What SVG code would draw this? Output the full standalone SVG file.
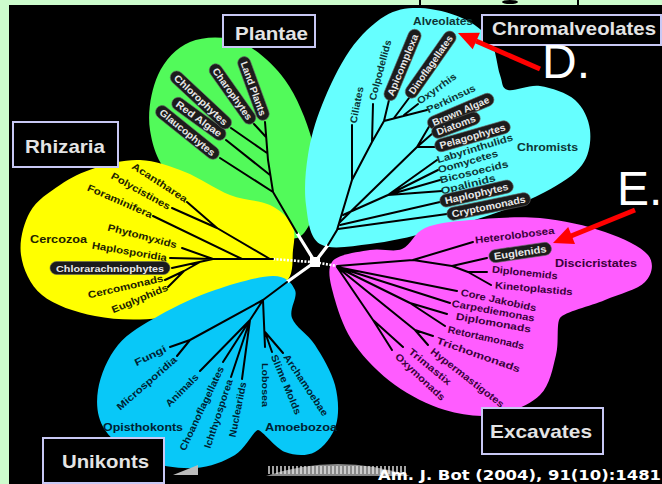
<svg xmlns="http://www.w3.org/2000/svg" width="662" height="484" viewBox="0 0 662 484">
<defs>
<style>
.ln{stroke:#000;stroke-width:2;fill:none;stroke-linecap:round}
.wl{stroke:#fff;stroke-width:3.2;fill:none}
.dl{stroke:#fff;stroke-width:2.6;fill:none;stroke-dasharray:2 1.5}
.t{font-family:"Liberation Sans",Arial,sans-serif;font-weight:bold;font-size:9.8px}
.h{font-family:"Liberation Sans",Arial,sans-serif;font-weight:bold;font-size:11px}
.cy{fill:#0d3535}.ye{fill:#222200}.bl{fill:#001f33}.mg{fill:#3a003a}
.pl rect{fill:#1c1c1c;stroke:#666;stroke-width:0.6}
.pl text{fill:#e8e8e8}
.box rect{fill:#000;stroke:#c8c8f4;stroke-width:2}
.box text{font-family:"Liberation Sans",Arial,sans-serif;font-weight:bold;font-size:19px;fill:#e4e4e4}
.big{font-family:"Liberation Sans",Arial,sans-serif;font-size:48px;fill:#fff}
.arr{stroke:#f00;stroke-width:5;fill:none}
</style>
</defs>
<rect width="662" height="484" fill="#cdfccd"/>
<rect x="9" y="5" width="653" height="479" fill="#000"/>
<g id="top-fragment">
<rect x="419" y="0" width="2" height="5" fill="#000"/>
<rect x="577" y="0" width="2" height="5" fill="#000"/>
<ellipse cx="510" cy="2" rx="8" ry="2" fill="#000"/>
</g>
<g id="lobes">
<path id="lobe-plantae" fill="#52fa5a" d="M297,238 C285.7,241.3 270.3,224.7 250,215 C229.7,205.3 191.7,194.2 175,180 C158.3,165.8 152.8,147.5 150,130 C147.2,112.5 151.3,89.7 158,75 C164.7,60.3 176.3,47.5 190,42 C203.7,36.5 224.2,35.7 240,42 C255.8,48.3 273,63.7 285,80 C297,96.3 306.5,120.8 312,140 C317.5,159.2 320.5,178.7 318,195 C315.5,211.3 308.3,234.7 297,238 Z"/>
<path id="lobe-chromalveolates" fill="#66ffff" d="M320,244 C309.3,237.5 308,219.8 306,205 C304,190.2 305.3,171.7 308,155 C310.7,138.3 315,122.5 322,105 C329,87.5 339.5,64.8 350,50 C360.5,35.2 373.3,23 385,16 C396.7,9 407.2,7.7 420,8 C432.8,8.3 450.3,12.7 462,18 C473.7,23.3 483.7,30.5 490,40 C496.3,49.5 497,66.7 500,75 C503,83.3 501.3,88.2 508,90 C514.7,91.8 528.8,84.3 540,86 C551.2,87.7 566.7,92.7 575,100 C583.3,107.3 588.8,119.2 590,130 C591.2,140.8 589.5,154.7 582,165 C574.5,175.3 560.3,183.7 545,192 C529.7,200.3 509.2,208.3 490,215 C470.8,221.7 450,227.2 430,232 C410,236.8 388.3,242 370,244 C351.7,246 330.7,250.5 320,244 Z"/>
<path id="lobe-rhizaria" fill="#ffff00" d="M293,250 C291.8,259.7 294.7,274.7 285,283 C275.3,291.3 255.8,294.2 235,300 C214.2,305.8 183.3,315.3 160,318 C136.7,320.7 114.7,319.8 95,316 C75.3,312.2 54.3,305.2 42,295 C29.7,284.8 23,268.8 21,255 C19,241.2 23.5,223.7 30,212 C36.5,200.3 49.2,192.3 60,185 C70.8,177.7 81.7,172.2 95,168 C108.3,163.8 125,159.3 140,160 C155,160.7 170,166.2 185,172 C199.2,177.5 215.8,189.5 230,195 C244.2,200.5 259.7,200 270,205 C280.3,210 288.2,217.5 292,225 C295.8,232.5 294.2,240.3 293,250 Z"/>
<path id="lobe-excavates" fill="#ff5cff" d="M332,262 C337.8,253.7 358.3,252.2 370,250 C381.7,247.8 392.8,252.7 402,249 C411.2,245.3 413.7,232.8 425,228 C436.3,223.2 450.8,221.7 470,220 C489.2,218.3 517.5,216 540,218 C562.5,220 587,225.8 605,232 C623,238.2 641.3,246.7 648,255 C654.7,263.3 652.2,274.5 645,282 C637.8,289.5 619.2,294 605,300 C590.8,306 564,312 560,318 C556,324 559.3,342.2 556,355 C552.7,367.8 550.2,385 540,395 C529.8,405 510.8,412.5 495,415 C479.2,417.5 461.7,415 445,410 C428.3,405 410,395.8 395,385 C380,374.2 365,359.2 355,345 C345,330.8 338.8,313.8 335,300 C331.2,286.2 326.2,270.3 332,262 Z"/>
<path id="lobe-unikonts" fill="#08c8f8" d="M273,276 C286.3,276 291.8,283 295,290 C298.2,297 288.7,308.8 292,318 C295.3,327.2 307.8,333.8 315,345 C322.2,356.2 331.5,371.7 335,385 C338.5,398.3 339.3,413.8 336,425 C332.7,436.2 323.5,447.5 315,452 C306.5,456.5 294.5,455.7 285,452 C275.5,448.3 262,430 258,430 C254,430 245.5,448.7 235,455 C224.5,461.3 210,467.2 195,468 C180,468.8 160,466.3 145,460 C130,453.7 112.8,441.7 105,430 C97.2,418.3 95.8,404.2 98,390 C100.2,375.8 107.7,357.5 118,345 C128.3,332.5 143.8,324.2 160,315 C176.2,305.8 196.2,296.5 215,290 C233.8,283.5 259.7,276 273,276 Z"/>
</g>
<g id="decorations">
<path d="M266,476 Q338,452 410,476 Z" fill="#8a8a8a"/>
<path d="M268,470 L408,470" stroke="#e8e8e8" stroke-width="8" stroke-dasharray="2 2" opacity="0.7"/>
<polygon points="173,475 198,465 198,475" fill="#bbbbbb"/>
</g>
<g id="connectors">
<rect x="310" y="257" width="10" height="10" fill="#fff"/>
<path class="wl" d="M315,262 L297,233 M315,262 L328,245 M315,262 L287,282"/>
<path class="dl" d="M273,259 L311,262 M319,263 L337,266"/>
<path class="ln" d="M297,233 L273,192 L268,160 L265,122 M273,192 L220,158 M270,175 L226,140 M267,153 L231,128 M266,137 L254,124"/>
<path class="ln" d="M328,245 L337,230 L352,180 L372,142 L384,121 M352,180 L352,125 M372,142 L373,104 M384,121 L389,100 M384,121 L427,110 M394,118 L409,98 M404,115 L418,104"/>
<path class="ln" d="M340,222 L417,147 M417,147 L430,125 M417,147 L433,133 M417,147 L435,147 M343,215 L388,195 M388,195 L437,160 M388,195 L438,170 M388,195 L440,180 M388,195 L442,191 M340,225 L440,202 M338,229 L447,214"/>
<path class="ln" d="M273,259 L213,259 M270,259 L217,228 M217,228 L187,202 M217,228 L172,208 M242,259 L153,216 M213,259 L182,248 M213,259 L170,258 M213,259 L172,268 M200,262 L184,271 M184,271 L165,280 M184,271 L168,287"/>
<path class="ln" d="M287,282 L263,300 M263,300 L190,340 M190,340 L170,347 M190,340 L177,356 M263,300 L250,320 M250,320 L200,371 M250,320 L223,362 M250,320 L231,377 M250,320 L242,379 M263,300 L265,347 M265,332 L272,352 M265,332 L283,353"/>
<path class="ln" d="M337,266 L413,260 M413,260 L473,242 M413,260 L452,266 M452,266 L487,258 M452,266 L468,272 M468,272 L487,272 M468,272 L491,285 M337,267 L457,291 M337,267 L450,303 M337,267 L410,303 M410,303 L447,314 M410,303 L445,326 M337,267 L415,330 M415,330 L433,336 M415,330 L428,345 M337,267 L373,320 M373,320 L403,347 M373,320 L392,350"/>
</g>
<g id="plantae-leaves">
<g id="glaucophytes" class="pl" transform="translate(157,108) rotate(38.8)"><rect x="0" y="-6.5" width="78" height="13" rx="6.5"/><text class="t" x="5" y="3.5" textLength="68" lengthAdjust="spacingAndGlyphs">Glaucophytes</text></g>
<g id="red-algae" class="pl" transform="translate(173,100) rotate(36)"><rect x="0" y="-6.5" width="64" height="13" rx="6.5"/><text class="t" x="5" y="3.5" textLength="54" lengthAdjust="spacingAndGlyphs">Red Algae</text></g>
<g id="chlorophytes" class="pl" transform="translate(172,73) rotate(43)"><rect x="0" y="-6.5" width="79" height="13" rx="6.5"/><text class="t" x="5" y="3.5" textLength="69" lengthAdjust="spacingAndGlyphs">Chlorophytes</text></g>
<g id="charophytes" class="pl" transform="translate(212,65) rotate(54.7)"><rect x="0" y="-6.5" width="71" height="13" rx="6.5"/><text class="t" x="5" y="3.5" textLength="61" lengthAdjust="spacingAndGlyphs">Charophytes</text></g>
<g id="land-plants" class="pl" transform="translate(242,57) rotate(70)"><rect x="0" y="-6.5" width="67" height="13" rx="6.5"/><text class="t" x="5" y="3.5" textLength="57" lengthAdjust="spacingAndGlyphs">Land Plants</text></g>
</g>
<g id="chromalveolate-leaves">
<g id="alveolates"><text class="h cy" x="413" y="25" textLength="60" lengthAdjust="spacingAndGlyphs" style="font-size:10px">Alveolates</text></g>
<g id="chromists"><text class="h cy" x="517" y="151" textLength="61" lengthAdjust="spacingAndGlyphs" style="font-size:10.5px">Chromists</text></g>
<g id="ciliates" transform="translate(353,123) rotate(-79)"><text class="t cy" x="0" y="3.5" textLength="37" lengthAdjust="spacingAndGlyphs">Ciliates</text></g>
<g id="colpodellids" transform="translate(372,100) rotate(-75)"><text class="t cy" x="0" y="3.5" textLength="62" lengthAdjust="spacingAndGlyphs">Colpodellids</text></g>
<g id="apicomplexa" class="pl" transform="translate(388,100) rotate(-67.5)"><rect x="0" y="-6.5" width="76" height="13" rx="6.5"/><text class="t" x="5" y="3.5" textLength="66" lengthAdjust="spacingAndGlyphs">Apicomplexa</text></g>
<g id="dinoflagellates" class="pl" transform="translate(408,97) rotate(-55)"><rect x="0" y="-6.5" width="79" height="13" rx="6.5"/><text class="t" x="5" y="3.5" textLength="69" lengthAdjust="spacingAndGlyphs">Dinoflagellates</text></g>
<g id="oxyrrhis" transform="translate(418,102) rotate(-36)"><text class="t cy" x="0" y="3.5" textLength="46" lengthAdjust="spacingAndGlyphs">Oxyrrhis</text></g>
<g id="perkinsus" transform="translate(427,110) rotate(-25.6)"><text class="t cy" x="0" y="3.5" textLength="53" lengthAdjust="spacingAndGlyphs">Perkinsus</text></g>
<g id="brown-algae" class="pl" transform="translate(428,125) rotate(-23)"><rect x="0" y="-6.5" width="71" height="13" rx="6.5"/><text class="t" x="5" y="3.5" textLength="61" lengthAdjust="spacingAndGlyphs">Brown Algae</text></g>
<g id="diatoms" class="pl" transform="translate(432,134) rotate(-20.5)"><rect x="0" y="-6.5" width="51" height="13" rx="6.5"/><text class="t" x="5" y="3.5" textLength="41" lengthAdjust="spacingAndGlyphs">Diatoms</text></g>
<g id="pelagophytes" class="pl" transform="translate(435,147) rotate(-16)"><rect x="0" y="-6.5" width="78" height="13" rx="6.5"/><text class="t" x="5" y="3.5" textLength="68" lengthAdjust="spacingAndGlyphs">Pelagophytes</text></g>
<g id="labyrinthulids" transform="translate(437,160) rotate(-17)"><text class="t cy" x="0" y="3.5" textLength="79" lengthAdjust="spacingAndGlyphs">Labyrinthulids</text></g>
<g id="oomycetes" transform="translate(438,170) rotate(-16)"><text class="t cy" x="0" y="3.5" textLength="62" lengthAdjust="spacingAndGlyphs">Oomycetes</text></g>
<g id="bicosoecids" transform="translate(440,180) rotate(-13.7)"><text class="t cy" x="0" y="3.5" textLength="70" lengthAdjust="spacingAndGlyphs">Bicosoecids</text></g>
<g id="opalinids" transform="translate(441,191) rotate(-14)"><text class="t cy" x="0" y="3.5" textLength="56" lengthAdjust="spacingAndGlyphs">Opalinids</text></g>
<g id="haplophytes" class="pl" transform="translate(440,202) rotate(-13)"><rect x="0" y="-6.5" width="75" height="13" rx="6.5"/><text class="t" x="5" y="3.5" textLength="65" lengthAdjust="spacingAndGlyphs">Haplophytes</text></g>
<g id="cryptomonads" class="pl" transform="translate(447,215) rotate(-11.6)"><rect x="0" y="-6.5" width="85" height="13" rx="6.5"/><text class="t" x="5" y="3.5" textLength="75" lengthAdjust="spacingAndGlyphs">Cryptomonads</text></g>
</g>
<g id="rhizaria-leaves">
<g id="cercozoa"><text class="h ye" x="30" y="243" textLength="57" lengthAdjust="spacingAndGlyphs">Cercozoa</text></g>
<g id="acantharea" transform="translate(133,165) rotate(33)"><text class="t ye" x="0" y="3.5" textLength="64" lengthAdjust="spacingAndGlyphs">Acantharea</text></g>
<g id="polycistines" transform="translate(112,175) rotate(29)"><text class="t ye" x="0" y="3.5" textLength="66" lengthAdjust="spacingAndGlyphs">Polycistines</text></g>
<g id="foraminifera" transform="translate(88,187) rotate(23.6)"><text class="t ye" x="0" y="3.5" textLength="70" lengthAdjust="spacingAndGlyphs">Foraminifera</text></g>
<g id="phytomyxids" transform="translate(108,227) rotate(14.6)"><text class="t ye" x="0" y="3.5" textLength="71" lengthAdjust="spacingAndGlyphs">Phytomyxids</text></g>
<g id="haplosporidia" transform="translate(92,245) rotate(9.8)"><text class="t ye" x="0" y="3.5" textLength="76" lengthAdjust="spacingAndGlyphs">Haplosporidia</text></g>
<g id="chlorarachniophytes" class="pl" transform="translate(50,268)"><rect x="0" y="-6.5" width="120" height="13" rx="6.5"/><text class="t" x="6" y="3.5" textLength="108" lengthAdjust="spacingAndGlyphs">Chlorarachniophytes</text></g>
<g id="cercomonads" transform="translate(88,295) rotate(-12.8)"><text class="t ye" x="0" y="3.5" textLength="77" lengthAdjust="spacingAndGlyphs">Cercomonads</text></g>
<g id="euglyphids" transform="translate(112,310) rotate(-22.7)"><text class="t ye" x="0" y="3.5" textLength="60" lengthAdjust="spacingAndGlyphs">Euglyphids</text></g>
</g>
<g id="unikont-leaves">
<g id="opisthokonts"><text class="h bl" x="103" y="431" textLength="80" lengthAdjust="spacingAndGlyphs">Opisthokonts</text></g>
<g id="amoebozoa"><text class="h bl" x="265" y="431" textLength="72" lengthAdjust="spacingAndGlyphs">Amoebozoa</text></g>
<g id="fungi" transform="translate(135,363) rotate(-26)"><text class="t bl" x="0" y="3.5" textLength="34" lengthAdjust="spacingAndGlyphs">Fungi</text></g>
<g id="microsporidia" transform="translate(118,408) rotate(-41)"><text class="t bl" x="0" y="3.5" textLength="76" lengthAdjust="spacingAndGlyphs">Microsporidia</text></g>
<g id="animals" transform="translate(167,405) rotate(-45)"><text class="t bl" x="0" y="3.5" textLength="42" lengthAdjust="spacingAndGlyphs">Animals</text></g>
<g id="choanoflagellates" transform="translate(182,450) rotate(-64.8)"><text class="t bl" x="0" y="3.5" textLength="92" lengthAdjust="spacingAndGlyphs">Choanoflagellates</text></g>
<g id="ichthyosporea" transform="translate(207,448) rotate(-71.8)"><text class="t bl" x="0" y="3.5" textLength="72" lengthAdjust="spacingAndGlyphs">Ichthyosporea</text></g>
<g id="nucleariids" transform="translate(232,437) rotate(-78.7)"><text class="t bl" x="0" y="3.5" textLength="56" lengthAdjust="spacingAndGlyphs">Nucleariids</text></g>
<g id="lobosea" transform="translate(265,363) rotate(90)"><text class="t bl" x="0" y="3.5" textLength="44" lengthAdjust="spacingAndGlyphs">Lobosea</text></g>
<g id="slime-molds" transform="translate(274,355) rotate(67.4)"><text class="t bl" x="0" y="3.5" textLength="64" lengthAdjust="spacingAndGlyphs">Slime Molds</text></g>
<g id="archamoebae" transform="translate(286,355) rotate(56.3)"><text class="t bl" x="0" y="3.5" textLength="72" lengthAdjust="spacingAndGlyphs">Archamoebae</text></g>
</g>
<g id="excavate-leaves">
<g id="discicristates"><text class="h mg" x="555" y="267" textLength="82" lengthAdjust="spacingAndGlyphs">Discicristates</text></g>
<g id="heterolobosea" transform="translate(475,240) rotate(-7)"><text class="t mg" x="0" y="3.5" textLength="80" lengthAdjust="spacingAndGlyphs">Heterolobosea</text></g>
<g id="euglenids" class="pl" transform="translate(489,257) rotate(-8.3)"><rect x="0" y="-6.5" width="63" height="13" rx="6.5"/><text class="t" x="5" y="3.5" textLength="53" lengthAdjust="spacingAndGlyphs">Euglenids</text></g>
<g id="diplonemids" transform="translate(492,269) rotate(6)"><text class="t mg" x="0" y="3.5" textLength="66" lengthAdjust="spacingAndGlyphs">Diplonemids</text></g>
<g id="kinetoplastids" transform="translate(495,285) rotate(5)"><text class="t mg" x="0" y="3.5" textLength="78" lengthAdjust="spacingAndGlyphs">Kinetoplastids</text></g>
<g id="core-jakobids" transform="translate(461,292) rotate(12)"><text class="t mg" x="0" y="3.5" textLength="77" lengthAdjust="spacingAndGlyphs">Core Jakobids</text></g>
<g id="carpediemonas" transform="translate(452,303) rotate(10.5)"><text class="t mg" x="0" y="3.5" textLength="84" lengthAdjust="spacingAndGlyphs">Carpediemonas</text></g>
<g id="diplomonads" transform="translate(456,316) rotate(10)"><text class="t mg" x="0" y="3.5" textLength="76" lengthAdjust="spacingAndGlyphs">Diplomonads</text></g>
<g id="retortamonads" transform="translate(448,329) rotate(12.6)"><text class="t mg" x="0" y="3.5" textLength="78" lengthAdjust="spacingAndGlyphs">Retortamonads</text></g>
<g id="trichomonads" transform="translate(437,340) rotate(19.4)"><text class="t mg" x="0" y="3.5" textLength="88" lengthAdjust="spacingAndGlyphs">Trichomonads</text></g>
<g id="hypermastigotes" transform="translate(432,350) rotate(37.8)"><text class="t mg" x="0" y="3.5" textLength="90" lengthAdjust="spacingAndGlyphs">Hypermastigotes</text></g>
<g id="trimastix" transform="translate(410,350) rotate(39.5)"><text class="t mg" x="0" y="3.5" textLength="52" lengthAdjust="spacingAndGlyphs">Trimastix</text></g>
<g id="oxymonads" transform="translate(397,355) rotate(43)"><text class="t mg" x="0" y="3.5" textLength="64" lengthAdjust="spacingAndGlyphs">Oxymonads</text></g>
</g>
<g id="group-boxes">
<g id="box-plantae" class="box"><rect x="223" y="15" width="92" height="32"/><text x="235" y="40" textLength="73" lengthAdjust="spacingAndGlyphs">Plantae</text></g>
<g id="box-rhizaria" class="box"><rect x="13" y="122" width="105" height="45"/><text x="25" y="153" textLength="80" lengthAdjust="spacingAndGlyphs">Rhizaria</text></g>
<g id="box-chromalveolates" class="box"><rect x="482" y="15" width="179" height="30"/><text x="492" y="35" textLength="164" lengthAdjust="spacingAndGlyphs">Chromalveolates</text></g>
<g id="box-excavates" class="box"><rect x="482" y="408" width="121" height="46"/><text x="490" y="438" textLength="102" lengthAdjust="spacingAndGlyphs">Excavates</text></g>
<g id="box-unikonts" class="box"><rect x="43" y="438" width="121" height="45"/><text x="62" y="468" textLength="87" lengthAdjust="spacingAndGlyphs">Unikonts</text></g>
</g>
<g id="annotations">
<text class="big" x="542" y="78">D.</text>
<text class="big" x="617" y="205">E.</text>
<path class="arr" d="M540,69 L476,41"/>
<polygon points="458,33 479.9,32.8 472.7,49.2" fill="#f00"/>
<path class="arr" d="M635,210 L571,236"/>
<polygon points="553,243 575,243.9 568.2,227.1" fill="#f00"/>
<text x="378" y="480" textLength="283" lengthAdjust="spacingAndGlyphs" style="font-family:'DejaVu Sans',Verdana,sans-serif;font-weight:bold;font-size:14px;fill:#fff">Am. J. Bot (2004), 91(10):1481</text>
</g>
</svg>
